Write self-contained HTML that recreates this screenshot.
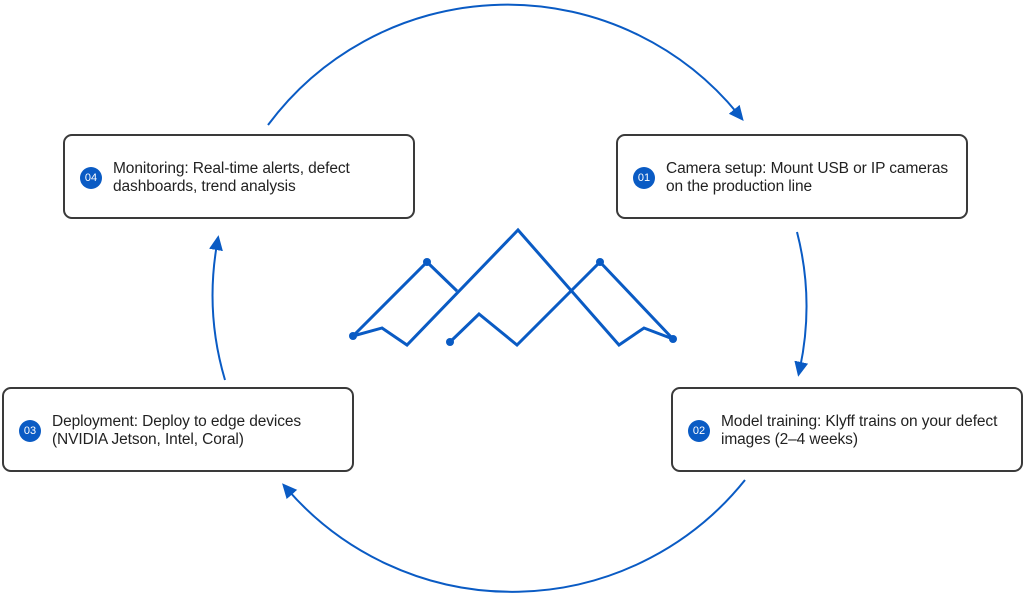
<!DOCTYPE html>
<html><head><style>
body{margin:0;width:1024px;height:597px;background:#fff;position:relative;overflow:hidden;font-family:"Liberation Sans",sans-serif;}
.box{position:absolute;width:352px;height:85px;border:2px solid #3a3a3a;border-radius:9px;box-sizing:border-box;}
.num{position:absolute;left:15px;top:31px;width:22px;height:22px;border-radius:50%;background:#0a5bc4;color:#fff;font-size:11px;line-height:22px;text-align:center;}
.txt{position:absolute;left:48px;top:24px;font-size:15.5px;line-height:18px;color:#222;letter-spacing:-0.1px;}
</style></head><body>
<svg width="1024" height="597" style="position:absolute;left:0;top:0">
<defs>
<marker id="b" markerWidth="16" markerHeight="16" refX="6" refY="8" orient="auto" markerUnits="userSpaceOnUse"><path d="M0,1 L15,8 L0,15 z" fill="#0a5bc4"/></marker></defs>
<g fill="none" stroke="#0a5bc4" stroke-width="2">
<path d="M268,125 A298,298 0 0 1 738,114" marker-end="url(#b)"/>
<path d="M797,232 A298,298 0 0 1 800,368" marker-end="url(#b)"/>
<path d="M745,480 A298,298 0 0 1 288,490" marker-end="url(#b)"/>
<path d="M225,380 A298,298 0 0 1 217,244" marker-end="url(#b)"/>
</g>
<g fill="none" stroke="#0a5bc4" stroke-width="3" stroke-linejoin="miter">
<polyline points="353,336 382,328 407,345 518,230 619,345 644,328 673,339"/>
<polyline points="353,336 427,262 457,291"/>
<polyline points="450,342 479,314 517,345 600,262 673,339"/>
</g>
<g fill="#0a5bc4"><circle cx="353" cy="336" r="4"/><circle cx="427" cy="262" r="4"/><circle cx="450" cy="342" r="4"/><circle cx="600" cy="262" r="4"/><circle cx="673" cy="339" r="4"/></g>
</svg>
<div class="box" style="left:63px;top:134px"><div class="num">04</div><div class="txt">Monitoring: Real-time alerts, defect<br>dashboards, trend analysis</div></div>
<div class="box" style="left:616px;top:134px"><div class="num">01</div><div class="txt">Camera setup: Mount USB or IP cameras<br>on the production line</div></div>
<div class="box" style="left:2px;top:387px"><div class="num">03</div><div class="txt">Deployment: Deploy to edge devices<br>(NVIDIA Jetson, Intel, Coral)</div></div>
<div class="box" style="left:671px;top:387px"><div class="num">02</div><div class="txt">Model training: Klyff trains on your defect<br>images (2–4 weeks)</div></div>
</body></html>
